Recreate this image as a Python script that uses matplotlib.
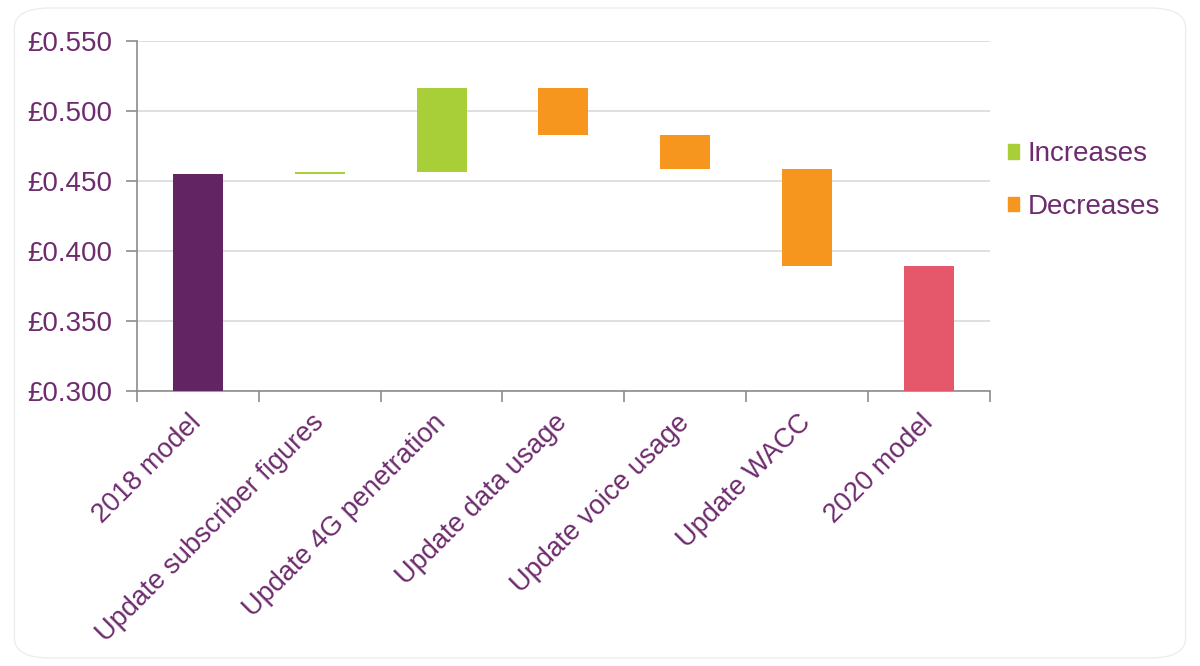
import matplotlib
matplotlib.use("Agg")
import matplotlib.pyplot as plt
from matplotlib.patches import FancyBboxPatch, Patch
import numpy as np

categories = ["2018 model", "Update subscriber figures", "Update 4G penetration",
              "Update data usage", "Update voice usage", "Update WACC", "2020 model"]
start_value = 0.455
deltas = [0.0015, 0.060, -0.0335, -0.0245, -0.0695]
end_value = 0.389
yticks = [0.300, 0.350, 0.400, 0.450, 0.500, 0.550]

PURPLE = "#622463"
GREEN = "#A8CF38"
ORANGE = "#F7961F"
RED = "#E5576A"
TEXT = "#6E2C6E"

plt.rcParams['font.family'] = ['Liberation Sans', 'DejaVu Sans']

fig = plt.figure(figsize=(12, 6.66), dpi=100)
fig.patches.append(FancyBboxPatch((0.012, 0.012), 0.976, 0.976,
                                  boxstyle="round,pad=0,rounding_size=0.03",
                                  transform=fig.transFigure, facecolor="white",
                                  edgecolor="#EDEDED", linewidth=1.0, zorder=-10))
ax = fig.add_axes([0.114, 0.413, 0.711, 0.525])
ax.set_facecolor("none")

x = np.arange(len(categories))
w = 0.41
# totals
ax.bar(x[0], start_value - 0.3, bottom=0.3, width=w, color=PURPLE, zorder=3)
ax.bar(x[-1], end_value - 0.3, bottom=0.3, width=w, color=RED, zorder=3)
level = start_value
for i, d in enumerate(deltas):
    lo = min(level, level + d)
    col = GREEN if d > 0 else ORANGE
    ax.bar(x[i + 1], abs(d), bottom=lo, width=w, color=col, zorder=3)
    level += d

ax.set_ylim(0.3, 0.55)
ax.set_xlim(-0.5, len(categories) - 0.5)
ax.set_yticks(yticks)
ax.set_yticklabels([f"£{v:.3f}" for v in yticks], color=TEXT, fontsize=20)
ax.yaxis.grid(True, color="#D9D9D9", linewidth=1.2, zorder=0)
ax.set_axisbelow(True)
for s in ["top", "right"]:
    ax.spines[s].set_visible(False)
for s in ["left", "bottom"]:
    ax.spines[s].set_color("#8C8C8C")
    ax.spines[s].set_linewidth(1.2)
ax.tick_params(axis='y', length=8, width=1.2, color="#8C8C8C", pad=10)

ax.set_xticks(np.arange(-0.5, len(categories), 1.0))
ax.set_xticklabels([])
ax.tick_params(axis='x', which='major', length=8, width=1.2, color="#8C8C8C")
ax.set_xticks(x, minor=True)
ax.set_xticklabels(categories, minor=True, rotation=45, ha='right', va='center',
                   rotation_mode='anchor', color=TEXT, fontsize=19.5)
ax.tick_params(axis='x', which='minor', length=0, pad=20)

handles = [Patch(color=GREEN, label="Increases"), Patch(color=ORANGE, label="Decreases")]
leg = fig.legend(handles=handles, loc='center left', bbox_to_anchor=(0.819, 0.729),
                 frameon=False, fontsize=20, handlelength=0.42, handleheight=0.42,
                 handletextpad=0.3, labelspacing=0.95)
for t in leg.get_texts():
    t.set_color(TEXT)

fig.savefig("out.png", dpi=100, facecolor="white")
